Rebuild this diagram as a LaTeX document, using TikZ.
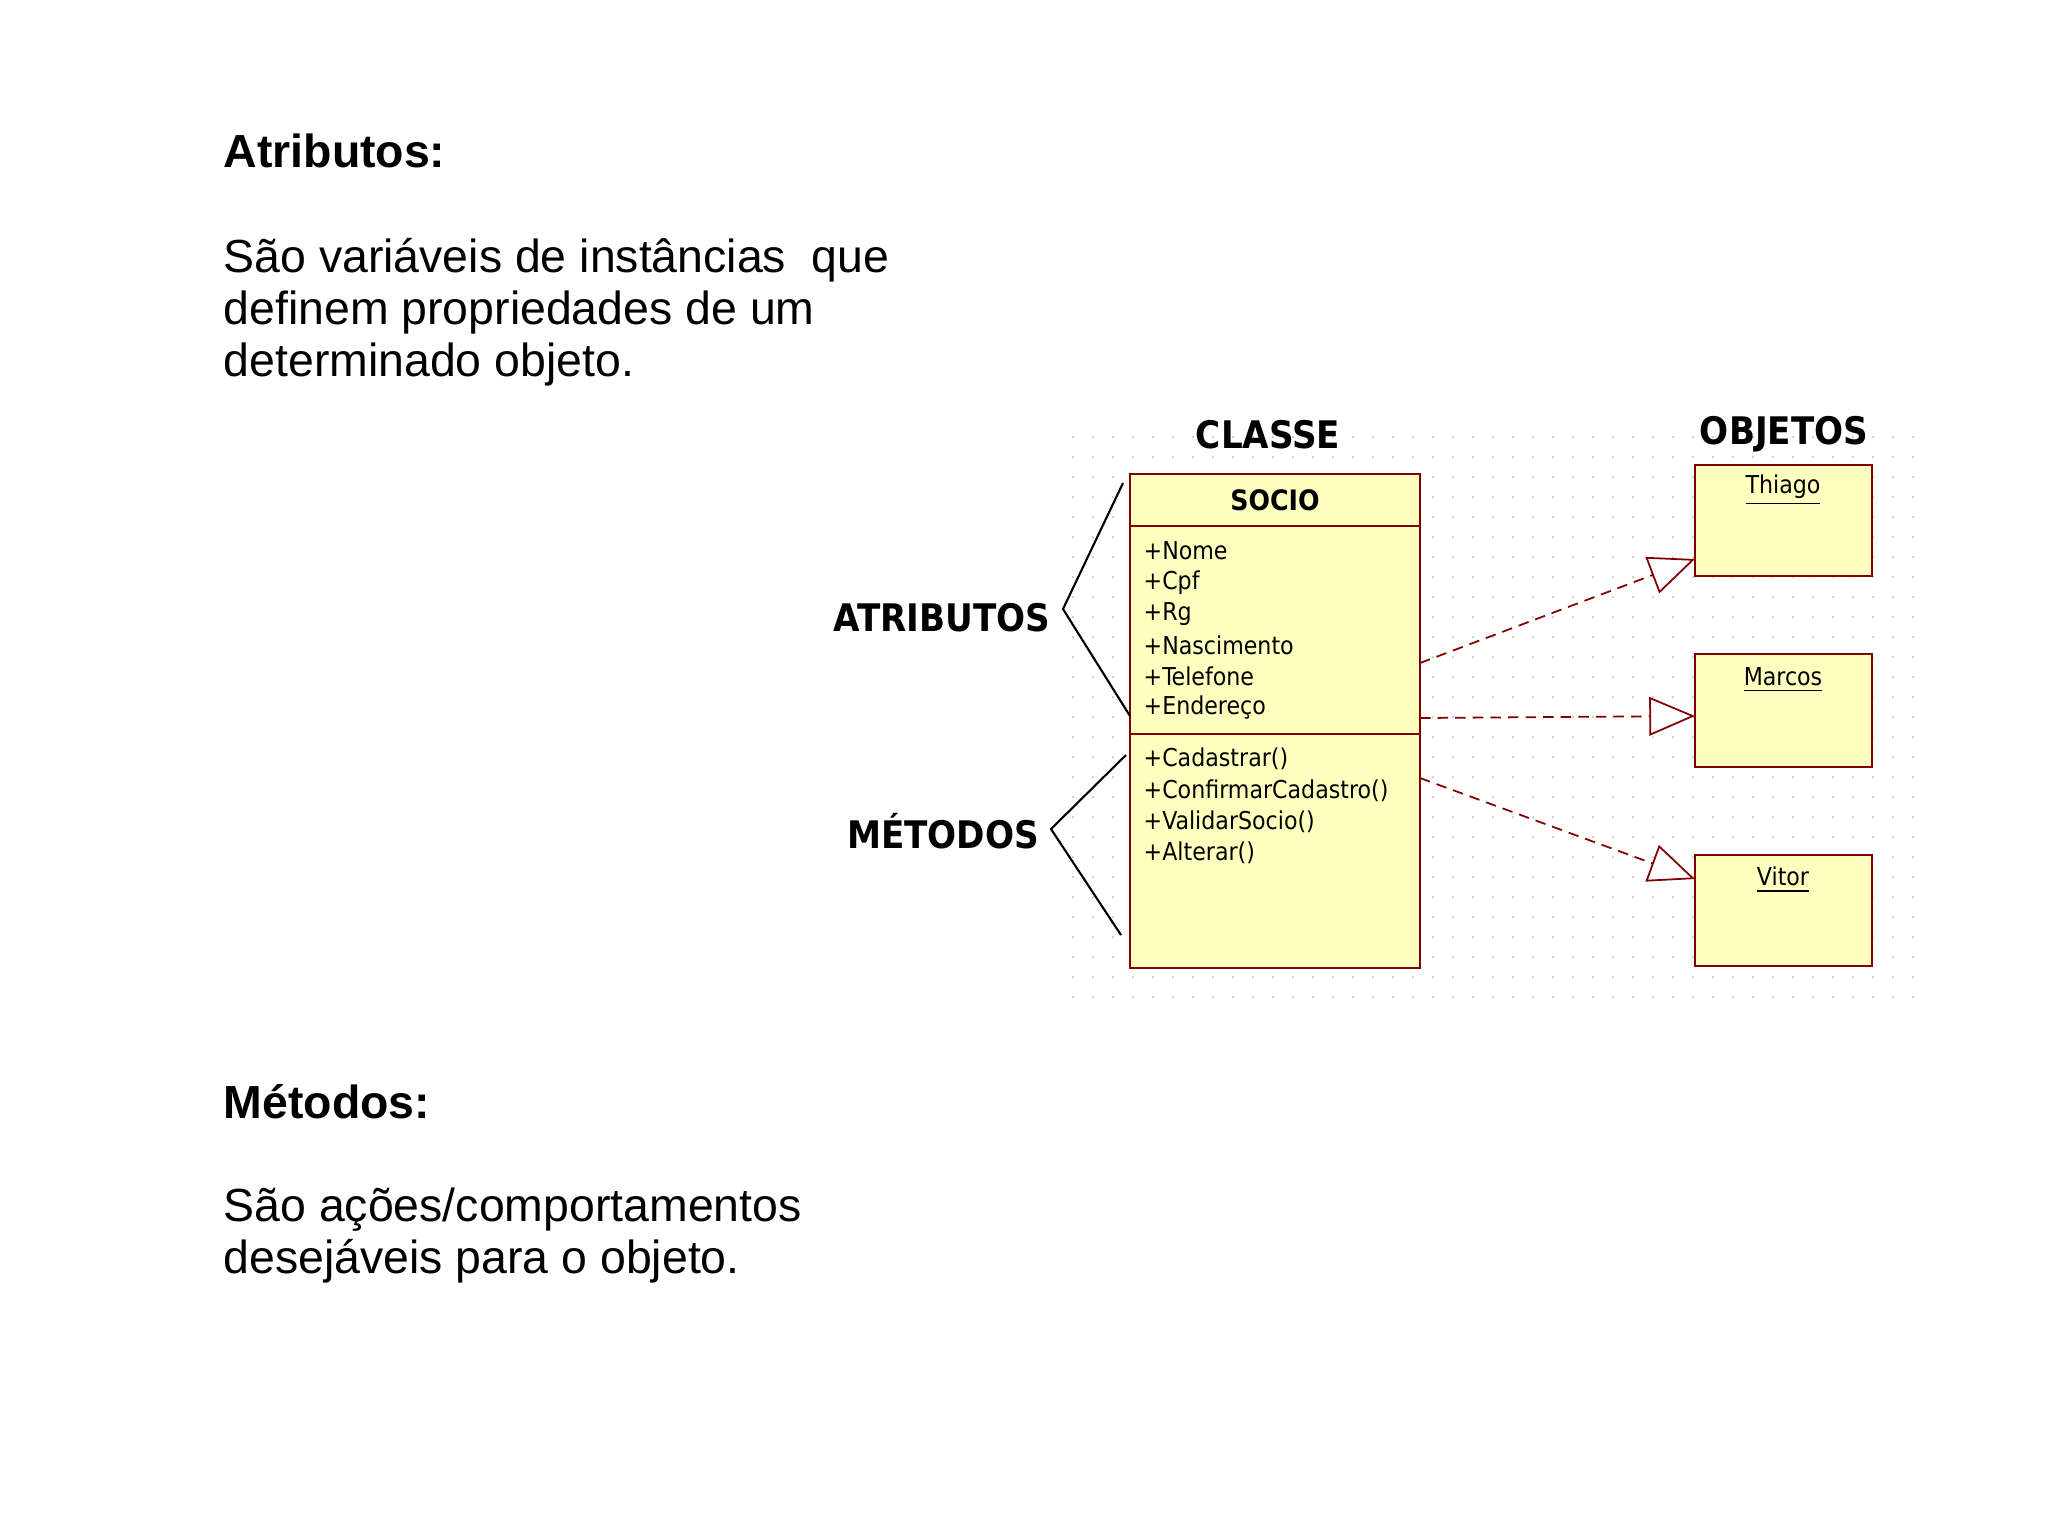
\documentclass[tikz,border=0pt]{standalone}
\usepackage{fontspec}
\setmainfont{Liberation Sans}
\newfontfamily\umlfont{DejaVu Sans Condensed}
\usetikzlibrary{arrows.meta}
\definecolor{boxfill}{RGB}{255,255,192}
\definecolor{boxline}{RGB}{128,0,0}
\tikzset{
  x=0.01cm,y=-0.01cm,
  body/.style={anchor=base west,inner sep=0pt,font=\fontsize{13.2}{14}\selectfont},
  head/.style={anchor=base west,inner sep=0pt,font=\fontsize{13.2}{14}\selectfont\bfseries},
  umlbox/.style={draw=boxline,fill=boxfill,line width=0.7pt},
  big/.style={font=\umlfont\fontsize{10.8}{12}\selectfont\bfseries},
  memb/.style={anchor=west,font=\umlfont\fontsize{7}{8}\selectfont,inner sep=0pt},
  rel/.style={densely dashed,draw=boxline,line width=0.5pt,-{Triangle[open,length=13pt,width=11pt,fill=white]}},
}
\begin{document}
\begin{tikzpicture}
\useasboundingbox (0,0) rectangle (2048,1535);
\node[head] (h1) at (223,167) {Atributos:};
\node[body] (t1) at (223,272) {São variáveis de instâncias\ \ que};
\node[body] (t2) at (223,324) {definem propriedades de um};
\node[body] (t3) at (223,376) {determinado objeto.};
\node[head] (h2) at (223,1118) {Métodos:};
\node[body] (t4) at (223,1221) {São ações/comportamentos};
\node[body] (t5) at (223,1273) {desejáveis para o objeto.};
% grid
\foreach \i in {0,...,42}{\foreach \j in {0,...,28}{
  \fill[black!30] (1073+\i*20,437+\j*20) circle (1);}}
% class
\draw[umlbox] (1130,474) rectangle (1420,968);
\draw[boxline,line width=0.7pt] (1130,526) -- (1420,526);
\draw[boxline,line width=0.7pt] (1130,734) -- (1420,734);
\node[font=\umlfont\fontsize{8}{9}\selectfont\bfseries] (socio) at (1275,500) {SOCIO};
\foreach \t [count=\k from 0] in {+Nome,+Cpf,+Rg,+Nascimento,+Telefone,+Endereço}
  \node[memb] (a\k) at (1143,551+\k*31.3) {\t};
\foreach \t [count=\k from 0] in {+Cadastrar(),+ConfirmarCadastro(),+ValidarSocio(),+Alterar()}
  \node[memb] (m\k) at (1143,759+\k*31.3) {\t};
\node[big] (cl) at (1268,435) {CLASSE};
\node[big] (ob) at (1784,434) {OBJETOS};
\node[big] (at) at (942,618) {ATRIBUTOS};
\node[big] (me) at (943,831) {MÉTODOS};
% objects
\draw[umlbox] (1695,465) rectangle (1872,576);
\draw[umlbox] (1695,654) rectangle (1872,767);
\draw[umlbox] (1695,855) rectangle (1872,966);
\node[font=\umlfont\fontsize{7}{8}\selectfont] (o1) at (1783,490) {\underline{Thiago}};
\node[font=\umlfont\fontsize{7}{8}\selectfont] (o2) at (1783,680) {\underline{Marcos}};
\node[font=\umlfont\fontsize{7}{8}\selectfont] (o3) at (1783,880) {\underline{Vitor}};
\coordinate (s1) at (1420,663); \coordinate (e1) at (1695,559);
\coordinate (s2) at (1420,718); \coordinate (e2) at (1695,716);
\coordinate (s3) at (1420,778); \coordinate (e3) at (1695,879);
\draw[rel] (s1) -- (e1);
\draw[rel] (s2) -- (e2);
\draw[rel] (s3) -- (e3);
% brackets
\draw[line width=0.6pt] (1123,483) -- (1063,609) -- (1130,716);
\draw[line width=0.6pt] (1126,755) -- (1051,829) -- (1121,935);
\end{tikzpicture}
\end{document}
